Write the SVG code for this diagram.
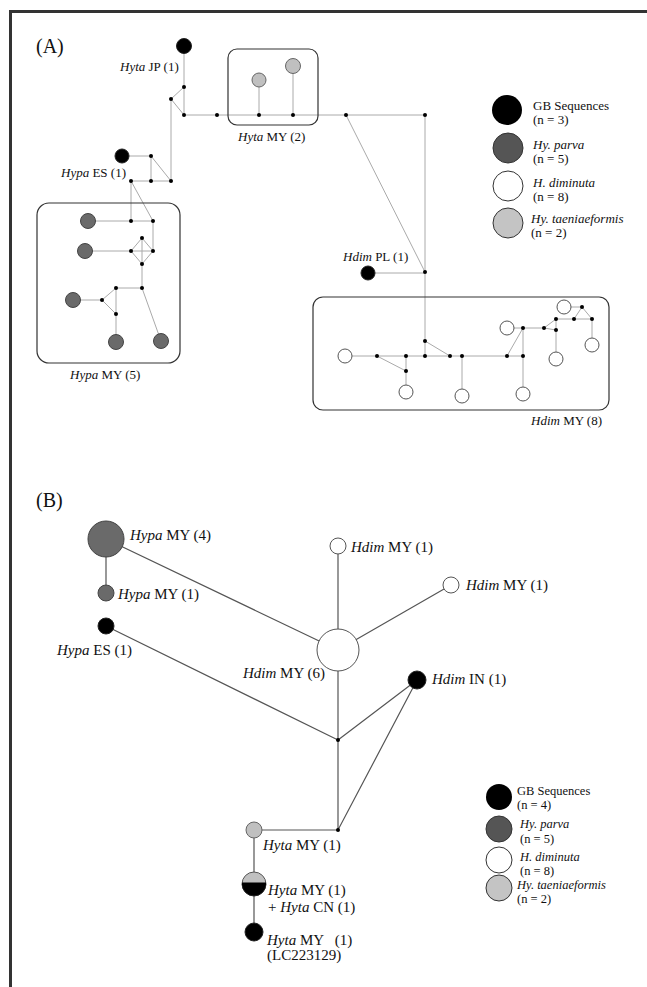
<svg xmlns="http://www.w3.org/2000/svg" width="647" height="987" viewBox="0 0 647 987">
<style>
text{font-family:"Liberation Serif","Times New Roman",serif;fill:#111}
.a{font-size:13px}
.b{font-size:15px}
.lg{font-size:13px}
.lb{font-size:12.5px}
.i{font-style:italic}
.ca{fill:none;stroke:#aaa;stroke-width:1}
.cb{fill:none;stroke:#555;stroke-width:1.2}
.box{fill:none;stroke:#333;stroke-width:1.2}
.d{fill:#000}
.gb{fill:#000;stroke:#222;stroke-width:1}
.pa{fill:#6a6a6a;stroke:#444;stroke-width:1}
.dm{fill:#fff;stroke:#555;stroke-width:1}
.ta{fill:#c0c0c0;stroke:#666;stroke-width:1}
</style>
<rect width="647" height="987" fill="#fff"/>
<path d="M10.5,987 V11.5 H647" fill="none" stroke="#333" stroke-width="3"/>
<text x="36" y="53" style="font-size:20px">(A)</text>
<text x="36" y="507" style="font-size:20px">(B)</text>

<g id="connectors-A" class="ca">
<path d="M184,46 V115 M184,87 L171,99 L184,115 M171,99 V181 M184,115 H425 M259,80 V115 M293,66 V115 M346,115 L425,272 M425,115 V356"/>
<path d="M122,156 H151 V181 M151,156 L171,181 M131,181 H171 M131,181 V221 M131,181 L153,221"/>
<path d="M88,221 H153 V251 M85,251 H153 M131,251 L142,238 L153,251 L142,264 Z M142,238 V288 M142,288 H116 M142,288 L161,341 M116,288 L102,300 L116,314 Z M73,300 H102 M116,314 V342"/>
<path d="M368,273 H425 M345,356 H523 M377,356 L406,371 M406,356 V392 M425,341 L450,356 M462,356 V396 M523,356 V394 M507,356 L523,328 V356 M507,328 H544 L556,319 M544,328 L556,330 M556,319 V359 M556,319 H592 V345 M574,319 L582,307 L592,319 M564,307 H582"/>
</g>
<g id="median-vectors-A" class="d">
<circle cx="184" cy="87" r="2"/><circle cx="171" cy="99" r="2"/><circle cx="184" cy="115" r="2"/><circle cx="217" cy="115" r="2"/><circle cx="259" cy="115" r="2"/><circle cx="293" cy="115" r="2"/><circle cx="346" cy="115" r="2"/><circle cx="425" cy="115" r="2"/>
<circle cx="151" cy="156" r="2"/><circle cx="131" cy="181" r="2"/><circle cx="151" cy="181" r="2"/><circle cx="171" cy="181" r="2"/>
<circle cx="131" cy="221" r="2"/><circle cx="153" cy="221" r="2"/><circle cx="131" cy="251" r="2"/><circle cx="153" cy="251" r="2"/><circle cx="142" cy="238" r="2"/><circle cx="142" cy="264" r="2"/><circle cx="142" cy="288" r="2"/><circle cx="116" cy="288" r="2"/><circle cx="102" cy="300" r="2"/><circle cx="116" cy="314" r="2"/>
<circle cx="425" cy="272" r="2"/><circle cx="377" cy="356" r="2"/><circle cx="406" cy="356" r="2"/><circle cx="425" cy="356" r="2"/><circle cx="450" cy="356" r="2"/><circle cx="462" cy="356" r="2"/><circle cx="507" cy="356" r="2"/><circle cx="523" cy="356" r="2"/><circle cx="406" cy="371" r="2"/><circle cx="425" cy="341" r="2"/>
<circle cx="523" cy="328" r="2"/><circle cx="544" cy="328" r="2"/><circle cx="556" cy="319" r="2"/><circle cx="556" cy="330" r="2"/><circle cx="574" cy="319" r="2"/><circle cx="592" cy="319" r="2"/><circle cx="582" cy="307" r="2"/>
</g>

<g id="hyta-jp-A"><circle class="gb" cx="184" cy="46" r="7.5"/><text class="a" x="120" y="71"><tspan class="i">Hyta</tspan> JP (1)</text></g>
<g id="hyta-my-A"><rect class="box" x="228" y="49" width="90" height="76" rx="9"/><circle class="ta" cx="259" cy="80" r="7"/><circle class="ta" cx="293" cy="66" r="7.5"/><text class="a" x="238" y="141"><tspan class="i">Hyta</tspan> MY (2)</text></g>
<g id="hypa-es-A"><circle class="gb" cx="122" cy="156" r="7"/><text class="a" x="61" y="177"><tspan class="i">Hypa</tspan> ES (1)</text></g>
<g id="hypa-my-A"><rect class="box" x="37" y="203" width="143" height="160" rx="12"/>
<circle class="pa" cx="88" cy="221" r="7.5"/><circle class="pa" cx="85" cy="251" r="7.5"/><circle class="pa" cx="73" cy="300" r="7.5"/><circle class="pa" cx="116" cy="342" r="7.5"/><circle class="pa" cx="161" cy="341" r="7.5"/>
<text class="a" x="70" y="379"><tspan class="i">Hypa</tspan> MY (5)</text></g>
<g id="hdim-pl-A"><circle class="gb" cx="368" cy="273" r="7"/><text class="a" x="343" y="261"><tspan class="i">Hdim</tspan> PL (1)</text></g>
<g id="hdim-my-A"><rect class="box" x="313" y="297" width="296" height="113" rx="10"/>
<circle class="dm" cx="345" cy="356" r="7"/><circle class="dm" cx="406" cy="392" r="7"/><circle class="dm" cx="462" cy="396" r="7"/><circle class="dm" cx="523" cy="394" r="7"/><circle class="dm" cx="507" cy="328" r="7"/><circle class="dm" cx="556" cy="359" r="7"/><circle class="dm" cx="564" cy="307" r="7"/><circle class="dm" cx="592" cy="345" r="7"/>
<text class="a" x="531" y="425"><tspan class="i">Hdim</tspan> MY (8)</text></g>
<g id="legend-A">
<circle cx="507" cy="110" r="15" fill="#000"/>
<circle cx="508" cy="148" r="15" fill="#555" stroke="#333"/>
<circle cx="508" cy="186" r="15" fill="#fff" stroke="#333"/>
<circle cx="508" cy="223" r="15" fill="#c4c4c4" stroke="#333"/>
<text class="lg" x="533" y="110">GB Sequences</text><text class="lg" x="533" y="124">(n = 3)</text>
<text class="lg i" x="533" y="149">Hy. parva</text><text class="lg" x="533" y="163">(n = 5)</text>
<text class="lg i" x="533" y="187">H. diminuta</text><text class="lg" x="533" y="201">(n = 8)</text>
<text class="lg i" x="531" y="223">Hy. taeniaeformis</text><text class="lg" x="531" y="237">(n = 2)</text>
</g>

<g id="connectors-B" class="cb">
<path d="M106,539 V593 M106,539 L338,650 M106,626 L338,740 M338,546 V830 M338,650 L451,585 M338,740 L417,680 L338,830 H254 V932"/>
<circle cx="338" cy="740" r="2" fill="#000" stroke="none"/>
<circle cx="338" cy="830" r="2" fill="#000" stroke="none"/>
</g>
<g id="hypa-my4-B"><circle class="pa" cx="106" cy="539" r="18" fill="#707070"/><text class="b" x="130" y="540"><tspan class="i">Hypa</tspan> MY (4)</text></g>
<g id="hypa-my1-B"><circle class="pa" cx="106" cy="593" r="8"/><text class="b" x="118" y="599"><tspan class="i">Hypa</tspan> MY (1)</text></g>
<g id="hypa-es-B"><circle class="gb" cx="106" cy="626" r="8"/><text class="b" x="57" y="655"><tspan class="i">Hypa</tspan> ES (1)</text></g>
<g id="hdim-my6-B"><circle class="dm" cx="338" cy="650" r="21"/><text class="b" x="243" y="678"><tspan class="i">Hdim</tspan> MY (6)</text></g>
<g id="hdim-my1a-B"><circle class="dm" cx="338" cy="546" r="8"/><text class="b" x="351" y="552"><tspan class="i">Hdim</tspan> MY (1)</text></g>
<g id="hdim-my1b-B"><circle class="dm" cx="451" cy="585" r="8"/><text class="b" x="466" y="590"><tspan class="i">Hdim</tspan> MY (1)</text></g>
<g id="hdim-in-B"><circle class="gb" cx="417" cy="680" r="9"/><text class="b" x="432" y="684"><tspan class="i">Hdim</tspan> IN (1)</text></g>
<g id="hyta-my1-B"><circle class="ta" cx="254" cy="830" r="8"/><text class="b" x="263" y="850"><tspan class="i">Hyta</tspan> MY (1)</text></g>
<g id="hyta-mixed-B">
<path d="M242,884 A12,12 0 0 1 266,884 Z" fill="#c0c0c0" stroke="#555" stroke-width="1"/>
<path d="M242,884 A12,12 0 0 0 266,884 Z" fill="#000" stroke="#222" stroke-width="1"/>
<path d="M242,884 H266" stroke="#000" stroke-width="3"/>
<text class="b" x="268" y="895"><tspan class="i">Hyta</tspan> MY (1)</text>
<text class="b" x="268" y="912">+ <tspan class="i">Hyta</tspan> CN (1)</text></g>
<g id="hyta-lc-B"><circle class="gb" cx="254" cy="932" r="9"/><text class="b" x="267" y="945" xml:space="preserve"><tspan class="i">Hyta</tspan> MY   (1)</text><text class="b" x="267" y="960">(LC223129)</text></g>
<g id="legend-B">
<circle cx="499" cy="797" r="13" fill="#000"/>
<circle cx="499" cy="829" r="13" fill="#555" stroke="#333"/>
<circle cx="499" cy="860" r="13" fill="#fff" stroke="#333"/>
<circle cx="499" cy="888" r="13" fill="#c4c4c4" stroke="#333"/>
<text class="lb" x="517" y="795">GB Sequences</text><text class="lb" x="517" y="809">(n = 4)</text>
<text class="lb i" x="520" y="828">Hy. parva</text><text class="lb" x="520" y="843">(n = 5)</text>
<text class="lb i" x="520" y="861">H. diminuta</text><text class="lb" x="520" y="875">(n = 8)</text>
<text class="lb i" x="517" y="889">Hy. taeniaeformis</text><text class="lb" x="517" y="903">(n = 2)</text>
</g>
</svg>
